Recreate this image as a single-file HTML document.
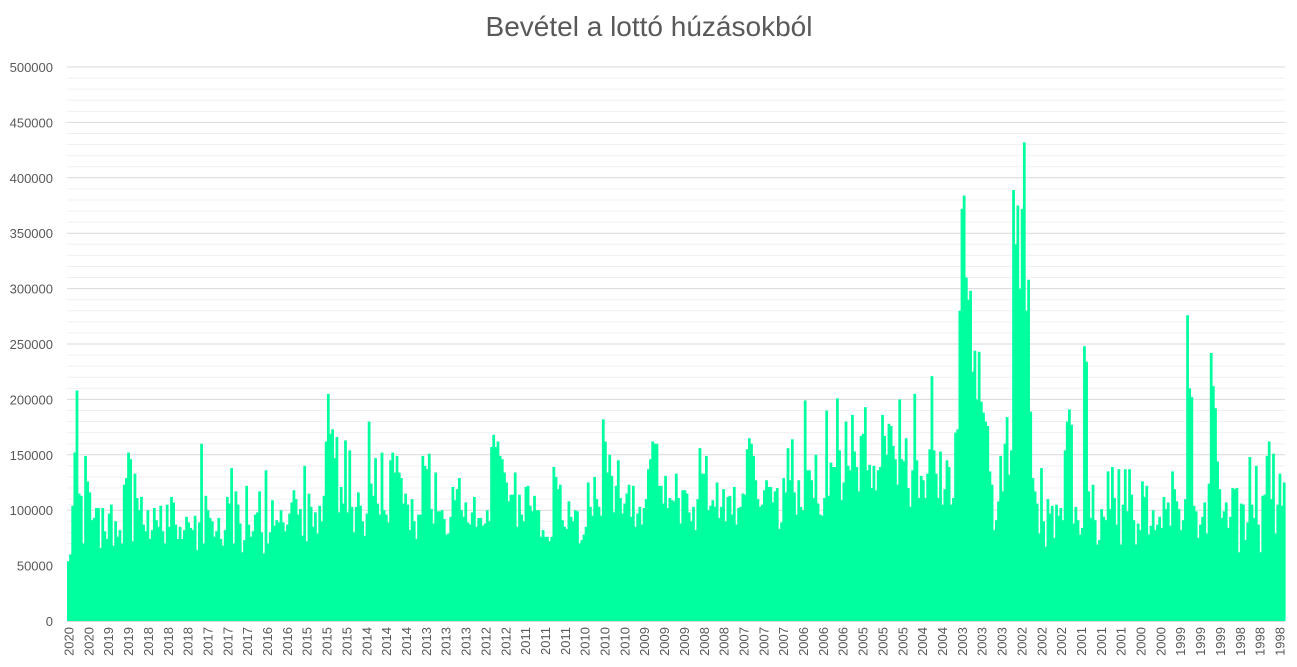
<!DOCTYPE html>
<html><head><meta charset="utf-8">
<style>
html,body{margin:0;padding:0;background:#fff;}
svg{display:block;font-family:"Liberation Sans",sans-serif;}
</style></head>
<body>
<svg id="chart" width="1297" height="667" viewBox="0 0 1297 667" xmlns="http://www.w3.org/2000/svg">
<text x="649" y="36" text-anchor="middle" font-size="28" fill="#595959">Bevétel a lottó húzásokból</text>
<g id="grid"></g>
<g id="yaxis"></g>
<g id="bars"></g>
<g id="xaxis"></g>
</svg>
<script>
// revenue per draw, in thousands
const revenueK = [
54,60,104,152,208,115,113,70,149,126,116,91,93,102,102,66,102,81,74,97,105,68,90,76,82,70,123,129,152,146,72,133,111,100,112,87,81,100,74,82,102,91,85,104,81,70,105,85,112,107,87,74,85,74,82,94,89,84,82,95,64,89,160,70,113,100,93,90,76,81,93,74,68,82,112,106,138,70,117,105,88,62,73,122,87,76,81,96,98,117,80,61,136,70,80,109,86,91,89,100,89,81,87,97,107,118,110,96,101,77,140,72,115,103,85,98,79,104,90,113,162,205,169,173,147,166,98,121,106,163,98,154,103,80,103,116,
104,90,77,97,180,124,113,147,106,96,152,100,96,89,145,152,134,149,134,129,106,115,105,82,110,90,74,96,96,149,140,137,151,101,88,134,99,99,100,92,78,79,94,121,109,119,129,100,94,107,89,87,98,112,85,93,93,86,88,100,90,157,168,157,162,149,146,134,125,108,114,114,134,85,114,96,90,121,122,104,99,113,100,100,76,82,76,76,72,76,139,130,119,123,91,85,83,108,94,90,100,99,70,73,78,85,125,103,95,130,110,103,95,182,162,134,150,131,98,122,145,111,97,106,115,123,94,122,85,97,103,87,102,110,137,146,162,160,160,122,122,106,131,102,111,109,108,133,111,88,118,
118,115,98,90,103,82,110,156,133,133,149,100,104,109,103,125,93,103,119,90,112,113,96,121,87,102,103,115,114,155,165,160,149,127,110,103,105,118,127,121,121,107,117,120,83,89,129,116,156,127,164,116,96,127,103,100,199,136,136,127,111,150,106,96,95,111,190,113,143,139,139,201,154,109,125,180,140,136,186,153,139,117,167,169,193,136,141,120,140,118,136,139,186,167,150,178,176,158,146,123,200,146,144,165,120,103,136,205,145,111,131,127,111,133,155,221,154,133,111,153,105,119,145,139,105,111,170,173,
280,372,384,310,290,298,225,244,200,
243,198,188,180,176,135,123,82,91,108,149,117,160,184,132,154,389,340,375,300,372,432,280,308,189,129,117,106,79,138,90,67,110,97,104,75,105,95,102,91,154,180,191,177,88,103,91,78,84,248,234,117,93,123,91,69,73,101,94,91,135,101,139,111,87,137,69,105,137,99,137,114,91,69,88,82,126,112,122,78,86,100,82,87,94,84,112,101,107,86,135,119,108,101,82,91,110,276,210,202,104,99,75,87,94,107,79,124,242,212,192,144,119,93,99,107,84,94,120,119,120,62,106,105,73,89,148,105,93,140,87,62,113,114,149,162,110,151,79,105,133,104,125
];
const yTicks = [0,50000,100000,150000,200000,250000,300000,350000,400000,450000,500000];
const xTickLabels = ["2020","2020","2019","2019","2018","2018","2018","2017","2017","2017","2016","2016","2015","2015","2015","2014","2014","2014","2013","2013","2013","2012","2012","2011","2011","2011","2010","2010","2010","2009","2009","2009","2008","2008","2007","2007","2007","2006","2006","2006","2005","2005","2005","2004","2004","2003","2003","2003","2002","2002","2002","2001","2001","2001","2000","2000","1999","1999","1999","1998","1998","1998"];

const NS = "http://www.w3.org/2000/svg";
const L = 67, R = 1285, T = 67, B = 621, YMAX = 500000;
function yScale(v){ return B - v / YMAX * (B - T); }
function xBand(i, n){ return L + i * (R - L) / n; }
function mk(tag, attrs){ const e = document.createElementNS(NS, tag); for (const k in attrs) e.setAttribute(k, attrs[k]); return e; }

const grid = document.getElementById('grid');
for (let v = 10000; v <= YMAX; v += 10000) {
  const major = v % 50000 === 0;
  const ln = mk('line', {x1:L, x2:R, y1:yScale(v), y2:yScale(v), stroke: major ? '#d9d9d9' : '#f0f0f0', 'stroke-width':1});
  
  
  grid.appendChild(ln);
}
const yaxis = document.getElementById('yaxis');
yTicks.forEach(v => {
  const t = mk('text', {x:53, y:yScale(v) + 5, 'text-anchor':'end', 'font-size':13, fill:'#595959'});
  t.textContent = String(v);
  
  
  yaxis.appendChild(t);
});

const bars = document.getElementById('bars');
const n = revenueK.length;
const bw = (R - L) / n;
revenueK.forEach((v, i) => {
  const y = yScale(v * 1000);
  const r = mk('rect', {x: xBand(i, n), y: y, width: bw + 0.6, height: B - y, fill: '#00ff9f'});
  
  
  bars.appendChild(r);
});

const xaxis = document.getElementById('xaxis');
const axl = mk('line', {x1:L, x2:R, y1:B + 0.5, y2:B + 0.5, stroke:'#d9d9d9', 'stroke-width':1});


xaxis.appendChild(axl);
const m = xTickLabels.length;
xTickLabels.forEach((lab, i) => {
  const cx = 69 + i * (1280 - 69) / (m - 1);
  const ax = cx + 4.5, ay = 627;
  const t = mk('text', {x: ax, y: ay, 'text-anchor':'end', 'font-size':13, fill:'#595959', transform:'rotate(-90 ' + ax + ' ' + ay + ')'});
  t.textContent = lab;
  
  
  xaxis.appendChild(t);
});
</script>
</body></html>
